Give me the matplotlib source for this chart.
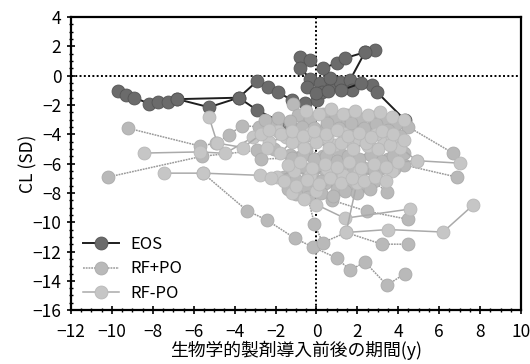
import matplotlib
matplotlib.use("Agg")
import matplotlib.pyplot as plt
from matplotlib.ticker import MultipleLocator
from matplotlib.lines import Line2D

plt.rcParams['font.family'] = ['Noto Sans CJK JP', 'DejaVu Sans']
plt.rcParams['axes.unicode_minus'] = True

# ---------------- data ----------------
series_names = ["EOS", "RF+PO", "RF-PO"]

eos_x = [
    [-9.7, -9.3, -8.9, -8.2, -7.75, -7.26, -6.8, -5.25, -3.8, -2.9, -2.37, -1.88, -1.2, -0.56, 0.02],
    [-6.8, -3.8, -2.9, -1.4],
    [-0.8, -0.32, -0.8, -0.3, 0.17, 0.27, 0.76, 1.15, 0.66, 0.32, 1.0, 1.39, 2.37, 2.86],
    [2.37, 1.64, 1.74, 2.7, 2.96, 4.33],
    [-0.45, 0.0, 0.55, 1.2, 2.2],
]
eos_y = [
    [-1.05, -1.3, -1.5, -1.9, -1.8, -1.8, -1.6, -2.15, -1.5, -0.37, -0.78, -1.12, -1.67, -1.87, -1.67],
    [-1.6, -1.5, -2.35, -3.4],
    [1.27, 1.06, 0.52, -0.2, -0.5, -1.1, -0.64, -0.44, -0.16, 0.52, 0.86, 1.2, 1.6, 1.75],
    [1.6, -0.3, -0.98, -0.64, -1.12, -3.03],
    [-0.75, -1.2, -1.05, -1.0, -0.5],
]

rfpo_x = [
    [-9.22, -5.7, -4.9, -4.3, -3.64, -2.8, -2.0, -1.2, -0.4, 0.4, 1.2, 2.0, 2.8, 3.6, 4.5, 6.67],
    [-10.2, -5.6, -2.9, -2.1, -1.3, -0.5, 0.3, 1.1, 1.9, 2.7, 3.5, 4.3, 6.87],
    [-5.55, -3.4, -2.42, -1.05, -0.17, 1.0, 1.64, 2.37, 3.45, 4.33],
    [-1.15, -0.9, -0.3, 0.3, 0.9, 1.5, 2.1, 2.7, 3.3, 3.9],
    [-1.4, -0.8, -0.2, 0.4, 1.0, 1.6, 2.2, 2.8, 3.45],
    [-1.6, -1.0, -0.4, 0.2, 0.76, 2.47, 4.47],
    [-0.5, -0.1, 0.3, 1.45, 3.2, 4.47],
    [-2.5, -1.9, -1.3, -0.7, -0.1, 0.5, 1.1, 1.7, 2.3, 2.9, 3.5, 4.1],
    [-1.0, -0.4, 0.2, 0.8, 1.4, 2.0, 2.6],
    [-1.2, -0.7, -0.2, 0.3, 0.8, 1.3, 1.8, 2.3, 2.8, 3.3, 3.8],
    [-2.7, -1.2, -0.65, -0.1, 0.45, 1.0, 1.55, 2.1, 2.65, 3.2, 3.75, 4.3],
]
rfpo_y = [
    [-3.58, -4.8, -4.6, -4.05, -3.4, -3.5, -3.2, -3.6, -3.3, -3.7, -3.4, -3.8, -3.5, -3.9, -3.5, -5.28],
    [-6.92, -5.5, -5.1, -5.0, -5.4, -5.0, -5.5, -5.2, -5.6, -5.2, -5.7, -6.1, -6.92],
    [-6.65, -9.2, -9.86, -11.1, -11.7, -12.45, -13.27, -12.72, -14.3, -13.5],
    [-1.9, -2.7, -2.9, -2.6, -3.0, -2.7, -3.0, -2.8, -3.1, -3.3],
    [-7.7, -7.4, -7.7, -7.3, -7.7, -7.3, -7.5, -7.2, -7.95],
    [-6.9, -7.1, -6.9, -7.2, -8.5, -9.25, -9.8],
    [-7.9, -10.1, -11.4, -10.7, -11.5, -11.5],
    [-3.0, -2.9, -3.1, -3.5, -3.6, -3.2, -3.6, -3.2, -3.6, -3.3, -3.7, -4.1],
    [-8.1, -8.3, -8.0, -8.2, -7.9, -8.0, -7.7],
    [-6.4, -6.2, -6.6, -6.3, -6.5, -6.2, -6.6, -6.3, -6.5, -6.2, -6.4],
    [-5.7, -5.6, -5.4, -5.7, -5.5, -5.8, -5.5, -5.7, -5.4, -5.8, -5.5, -5.3],
]

rfnpo_x = [
    [-8.44, -5.7, -4.47, -3.1, -2.3, -1.5, -0.7, 0.1, 0.9, 1.7, 2.5, 3.3, 4.1, 4.9, 7.02],
    [-7.46, -5.55, -2.77, -1.94, -1.1, -0.3, 0.5, 1.3, 2.1, 2.9, 3.7],
    [-5.25, -4.85, -3.6, -2.7, -1.9, -1.1, -0.3, 0.5, 1.3, 2.1, 2.9, 3.7],
    [-1.4, -0.8, -0.2, 0.4, 1.0, 1.6, 2.2, 2.8, 3.4, 4.0, 4.9],
    [-1.2, -0.6, 0.0, 0.0, 1.39, 4.57],
    [1.98, 1.45, 3.5, 6.19, 7.65],
    [-2.4, -1.8, -1.2, -0.6, 0.0, 0.6, 1.2, 1.8, 2.4, 3.0, 3.6],
    [-2.3, -1.75, -1.2, -0.65, -0.1, 0.45, 1.0, 1.55, 2.1, 2.65, 3.2, 3.75, 4.3],
    [-2.2, -1.6, -1.0, -0.45, 0.1, 0.65, 1.2, 1.75, 2.3, 2.85, 3.4],
    [-0.5, 0.1, 0.7, 1.3, 1.9, 2.5, 3.1, 3.7, 4.3],
]
rfnpo_y = [
    [-5.28, -5.2, -5.3, -4.2, -4.5, -4.2, -4.6, -4.3, -4.7, -4.4, -4.8, -4.5, -4.9, -5.8, -5.97],
    [-6.65, -6.65, -6.8, -6.9, -6.5, -6.8, -6.4, -6.8, -6.5, -6.9, -6.5],
    [-2.84, -4.6, -4.9, -4.0, -3.8, -4.1, -3.9, -4.2, -3.9, -4.3, -4.0, -4.2],
    [-6.1, -5.9, -6.3, -6.0, -6.2, -5.9, -6.3, -6.0, -6.2, -5.9, -5.8],
    [-8.0, -8.4, -7.9, -8.8, -9.73, -9.1],
    [-7.3, -10.7, -10.5, -10.67, -8.84],
    [-4.9, -5.3, -4.5, -4.9, -4.5, -4.9, -4.6, -5.0, -4.6, -5.0, -4.7],
    [-3.7, -4.0, -3.8, -4.1, -3.8, -4.0, -3.7, -4.1, -3.9, -4.2, -3.8, -4.0, -4.4],
    [-7.0, -7.2, -7.5, -7.1, -7.4, -7.0, -7.3, -7.0, -7.2, -6.9, -7.2],
    [-2.4, -2.6, -2.3, -2.6, -2.4, -2.7, -2.5, -2.8, -3.0],
]

xlim = (-12, 10)
ylim = (-16, 4)
xticks = list(range(-12, 11, 2))
yticks = list(range(-16, 5, 2))
xlabel = "生物学的製剤導入前後の期間(y)"
ylabel = "CL (SD)"

# ---------------- styles ----------------
ms = 9.3
sty = {
    "EOS": dict(color="#1e1e1e", lw=1.4, ls="-", mfc="#6b6b6b", mec="#555555"),
    "RF+PO": dict(color="#9a9a9a", lw=1.1, ls=(0, (1.2, 0.6)), mfc="#b9b9b9", mec="#ababab"),
    "RF-PO": dict(color="#aaaaaa", lw=1.1, ls="-", mfc="#c6c6c6", mec="#b8b8b8"),
}

fig = plt.figure(figsize=(5.3, 3.64), dpi=100)
ax = fig.add_axes([0.134, 0.148, 0.849, 0.805])

ax.axhline(0, color="black", lw=1.4, ls=(0, (1, 1.2)), zorder=1)
ax.axvline(0, color="black", lw=1.4, ls=(0, (1, 1.2)), zorder=1)

def draw(xs, ys, name, z):
    s = sty[name]
    for xx, yy in zip(xs, ys):
        ax.plot(xx, yy, color=s["color"], lw=s["lw"], ls=s["ls"], marker="o",
                ms=ms, mfc=s["mfc"], mec=s["mec"], mew=0.6, zorder=z)

draw(eos_x, eos_y, "EOS", 2)
draw(rfpo_x, rfpo_y, "RF+PO", 3)
draw(rfnpo_x, rfnpo_y, "RF-PO", 4)

ax.set_xlim(*xlim)
ax.set_ylim(*ylim)
ax.set_xticks(xticks)
ax.set_yticks(yticks)
ax.xaxis.set_minor_locator(MultipleLocator(0.5))
ax.yaxis.set_minor_locator(MultipleLocator(0.5))
ax.tick_params(which="major", direction="inout", length=6, width=1.2, labelsize=12.5, pad=4)
ax.tick_params(which="minor", direction="inout", length=3, width=1.0)
ax.tick_params(axis="x", which="major", pad=6)
for sp in ax.spines.values():
    sp.set_linewidth(1.6)

ax.set_xlabel(xlabel, fontsize=12.8, labelpad=0)
ax.set_ylabel(ylabel, fontsize=12.5)
ax.yaxis.set_label_coords(-0.075, 0.5)

handles = []
for name in series_names:
    s = sty[name]
    handles.append(Line2D([], [], color=s["color"], lw=s["lw"], ls=s["ls"], marker="o",
                          ms=ms, mfc=s["mfc"], mec=s["mec"], mew=0.6))
ax.legend(handles, series_names, loc="lower left", bbox_to_anchor=(0.0, -0.012),
          frameon=False, fontsize=12, handlelength=2.2, handletextpad=0.65,
          labelspacing=0.45, borderaxespad=0.3)

fig.savefig("out.png", dpi=100)
